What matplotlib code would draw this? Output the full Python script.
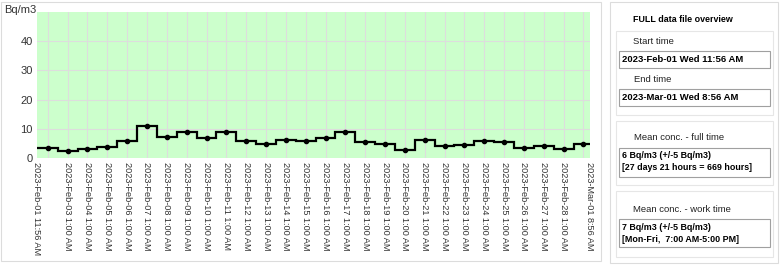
import datetime as dt
import matplotlib
matplotlib.use("Agg")
import matplotlib.pyplot as plt
import matplotlib.dates as mdates
from matplotlib.patches import Rectangle

# daily mean concentration (Bq/m3), one value per day, 1:00 AM each day
days = [dt.datetime(2023, 2, d, 1, 0) for d in range(2, 29)] + [dt.datetime(2023, 3, 1, 1, 0)]
conc = [3.5, 2.3, 3.1, 3.6, 5.8, 10.9, 7.3, 8.8, 6.9, 9.0, 5.8, 4.7, 6.0, 5.8,
        6.7, 9.0, 5.5, 4.8, 2.8, 6.2, 4.0, 4.4, 5.7, 5.5, 3.4, 4.0, 3.2, 4.8]
start = dt.datetime(2023, 2, 1, 11, 56)
end = dt.datetime(2023, 3, 1, 8, 56)
y_ticks = [0, 10, 20, 30, 40]
unit = "Bq/m3"

panel_title = "FULL data file overview"
start_label = "2023-Feb-01 Wed 11:56 AM"
end_label = "2023-Mar-01 Wed 8:56 AM"
full_lines = ["6 Bq/m3 (+/-5 Bq/m3)", "[27 days 21 hours = 669 hours]"]
work_lines = ["7 Bq/m3 (+/-5 Bq/m3)", "[Mon-Fri,  7:00 AM-5:00 PM]"]

W, H = 780, 265
fig = plt.figure(figsize=(W / 100, H / 100), dpi=100)
fig.patch.set_facecolor("white")


def fx(x):
    return x / W


def fy(y):
    return 1 - y / H


def box(x0, y0, x1, y1, ec, fc="none", lw=0.8):
    fig.patches.append(Rectangle((fx(x0), fy(y1)), fx(x1) - fx(x0), fy(y0) - fy(y1),
                                 transform=fig.transFigure, ec=ec, fc=fc, lw=lw))


# panel frames
box(1, 2, 601, 261, "#dcdcdc")
box(610, 2, 778, 263, "#dcdcdc")

ax = fig.add_axes([fx(37), fy(158), fx(590) - fx(37), fy(12) - fy(158)])
ax.set_facecolor("#ccffcc")

# step edges: halfway between the daily points, bounded by start/end
edges = [start] + [d + dt.timedelta(hours=12) for d in days[:-1]] + [end]
ax.stairs(conc, mdates.date2num(edges), color="black", lw=1.6, baseline=None)
ax.plot(days, conc, "o", color="black", ms=3)

ax.set_xlim(start, end)
ax.set_ylim(0, 50)
ax.set_yticks(y_ticks)
ax.set_yticklabels([str(v) for v in y_ticks], fontsize=8, family="Liberation Sans", color="#333333")

ticks = [start] + days[1:-1] + [end]
labels = ["2023-" + t.strftime("%b-%d ") + t.strftime("%I:%M %p").lstrip("0") for t in ticks]
ax.set_xticks(mdates.date2num(ticks))
ax.set_xticklabels(labels, rotation=270, fontsize=6.6, family="Liberation Sans", color="#333333",
                   va="top", ha="center")
ax.tick_params(axis="x", length=0, pad=3)
ax.tick_params(axis="y", length=0, pad=3)
for d in days:
    ax.axvline(d, color="#dddddd", lw=0.8, zorder=0)
for v in y_ticks[1:]:
    ax.axhline(v, color="#dddddd", lw=0.8, zorder=0)
for s in ax.spines.values():
    s.set_visible(False)
fig.text(fx(4), fy(10), unit, fontsize=8, family="Liberation Sans", color="#333333", va="center")

# right info panel
tf = "Liberation Sans"
fs = 6.4
fig.text(fx(633), fy(19), panel_title, fontsize=fs, weight="bold", family=tf, va="center")
box(616, 31, 773, 115, "#e6e6e6")
fig.text(fx(633), fy(42), "Start time", fontsize=fs + 0.4, family=tf, va="center", color="#222222")
box(619, 51, 770, 68, "#a0a0a0", "white")
fig.text(fx(622), fy(60), start_label, fontsize=fs + 0.4, weight="bold", family=tf, va="center")
fig.text(fx(634), fy(80), "End time", fontsize=fs + 0.4, family=tf, va="center", color="#222222")
box(619, 89, 770, 106, "#a0a0a0", "white")
fig.text(fx(622), fy(98), end_label, fontsize=fs + 0.4, weight="bold", family=tf, va="center")

box(616, 121, 773, 185, "#e6e6e6")
fig.text(fx(634), fy(138), "Mean conc. - full time", fontsize=fs + 0.4, family=tf, va="center", color="#222222")
box(619, 148, 770, 177, "#a0a0a0", "white")
fig.text(fx(622), fy(155), full_lines[0], fontsize=fs, weight="bold", family=tf, va="center")
fig.text(fx(622), fy(168), full_lines[1], fontsize=fs, weight="bold", family=tf, va="center")

box(616, 191, 773, 257, "#e6e6e6")
fig.text(fx(633), fy(210), "Mean conc. - work time", fontsize=fs + 0.4, family=tf, va="center", color="#222222")
box(619, 219, 770, 247, "#a0a0a0", "white")
fig.text(fx(622), fy(228), work_lines[0], fontsize=fs, weight="bold", family=tf, va="center")
fig.text(fx(622), fy(240), work_lines[1], fontsize=fs, weight="bold", family=tf, va="center")

fig.savefig("out.png", dpi=100)
